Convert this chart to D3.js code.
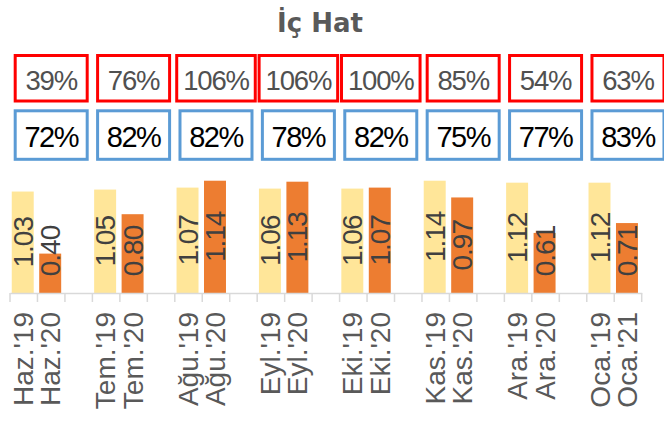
<!DOCTYPE html>
<html>
<head>
<meta charset="utf-8">
<script src="https://cdn.jsdelivr.net/npm/d3@7"></script>
<style>
  body { margin: 0; background: #fff; }
  svg { display: block; }
  .axis-label { font-family: 'Liberation Sans', Arial, sans-serif; font-size: 28px; fill: #595959; }
  .bar-label { font-family: 'Liberation Sans', Arial, sans-serif; font-size: 28px; fill: #404040; letter-spacing: -1px; }
</style>
</head>
<body>
<div id="chart"></div>
<script>
var width = 664;
var height = 424;

// data
var labels19 = ["Haz.'19", "Tem.'19", "Ağu.'19", "Eyl.'19", "Eki.'19", "Kas.'19", "Ara.'19", "Oca.'19"];
var labels20 = ["Haz.'20", "Tem.'20", "Ağu.'20", "Eyl.'20", "Eki.'20", "Kas.'20", "Ara.'20", "Oca.'21"];
var values19 = [1.03, 1.05, 1.07, 1.06, 1.06, 1.14, 1.12, 1.12];
var values20 = [0.40, 0.80, 1.14, 1.13, 1.07, 0.97, 0.61, 0.71];
var redPct = [39, 76, 106, 106, 100, 85, 54, 63];
var bluePct = [72, 82, 82, 78, 82, 75, 77, 83];

var color19 = '#FFE699';
var color20 = '#ED7D31';

// category list: 19, 20, empty gap between groups
var cats = [];
labels19.forEach(function(l, i) {
  cats.push({ key: 'a' + i, label: l, value: values19[i], color: color19, group: i });
  cats.push({ key: 'b' + i, label: labels20[i], value: values20[i], color: color20, group: i });
  if (i < labels19.length - 1) cats.push({ key: 'c' + i, label: '', value: null, group: i });
});

var svg = d3.select('#chart').append('svg')
  .attr('width', width)
  .attr('height', height);

var x = d3.scaleBand()
  .domain(cats.map(function(d) { return d.key; }))
  .range([10, 641.7]);

var y = d3.scaleLinear()
  .domain([0, 1.2])
  .range([293, 174.8]);

var step = x.step();

// title
svg.append('text')
  .attr('x', 320)
  .attr('y', 32)
  .attr('text-anchor', 'middle')
  .style('font-family', "'DejaVu Sans', sans-serif")
  .style('font-weight', 'bold')
  .style('font-size', '26px')
  .style('fill', '#595959')
  .text('İç Hat');

// boxes above each month group
function groupCenter(i) {
  return x('a' + i) + step * 1.5;
}

function drawBoxes(values, yTop, h, stroke, textColor, fontSize, spacing, baseline) {
  var g = svg.append('g');
  values.forEach(function(v, i) {
    var cx = groupCenter(i);
    var t = g.append('text')
      .attr('x', cx)
      .attr('y', baseline)
      .attr('text-anchor', 'middle')
      .style('font-family', "'Liberation Sans', Arial, sans-serif")
      .style('font-size', fontSize + 'px')
      .style('letter-spacing', spacing + 'px')
      .style('fill', textColor)
      .text(v + '%');
    var w = Math.max(72, t.node().getComputedTextLength() + 13);
    g.insert('rect', 'text')
      .attr('x', cx - w / 2)
      .attr('y', yTop)
      .attr('width', w)
      .attr('height', h)
      .attr('fill', '#fff')
      .attr('stroke', stroke)
      .attr('stroke-width', 3);
  });
}

drawBoxes(redPct, 55.5, 45.5, '#FF0000', '#505050', 27.5, -1.2, 90);
drawBoxes(bluePct, 110.8, 48.5, '#5B9BD5', '#000000', 29, -1.5, 146.7);

// bars
var barData = cats.filter(function(d) { return d.value !== null; });
var bw = step * 0.8;

svg.append('g')
  .selectAll('rect')
  .data(barData)
  .enter().append('rect')
  .attr('x', function(d) { return x(d.key) + (step - bw) / 2 - 1; })
  .attr('y', function(d) { return y(d.value); })
  .attr('width', bw)
  .attr('height', function(d) { return y(0) - y(d.value); })
  .attr('fill', function(d) { return d.color; });

// value labels, centred in bar but kept clear of the base
svg.append('g')
  .selectAll('text')
  .data(barData)
  .enter().append('text')
  .attr('class', 'bar-label')
  .attr('text-anchor', 'middle')
  .attr('dy', '0.36em')
  .attr('transform', function(d) {
    var cx = x(d.key) + step / 2 - 1;
    var cy = Math.min((y(d.value) + y(0)) / 2, y(0) - 42);
    return 'translate(' + cx + ',' + cy + ') rotate(-90)';
  })
  .text(function(d) { return d3.format('.2f')(d.value); });

// axis
var axis = svg.append('g')
  .attr('transform', 'translate(0,' + y(0) + ')')
  .call(d3.axisBottom(x).tickSize(0).tickSizeOuter(0).tickFormat(''));

axis.select('.domain')
  .attr('stroke', '#D9D9D9')
  .attr('stroke-width', 1.5);

var edges = cats.map(function(d) { return x(d.key); }).concat([x.range()[1]]);
axis.selectAll('.edge')
  .data(edges)
  .enter().append('line')
  .attr('class', 'edge')
  .attr('x1', function(d) { return d; })
  .attr('x2', function(d) { return d; })
  .attr('y1', 0)
  .attr('y2', 9)
  .attr('stroke', '#D9D9D9')
  .attr('stroke-width', 1.5);

svg.append('g')
  .selectAll('text')
  .data(cats.filter(function(d) { return d.label; }))
  .enter().append('text')
  .attr('class', 'axis-label')
  .attr('text-anchor', 'end')
  .attr('dy', '0.36em')
  .attr('transform', function(d) {
    return 'translate(' + (x(d.key) + step / 2 - 1) + ',' + 312 + ') rotate(-90)';
  })
  .text(function(d) { return d.label; });
</script>
</body>
</html>
